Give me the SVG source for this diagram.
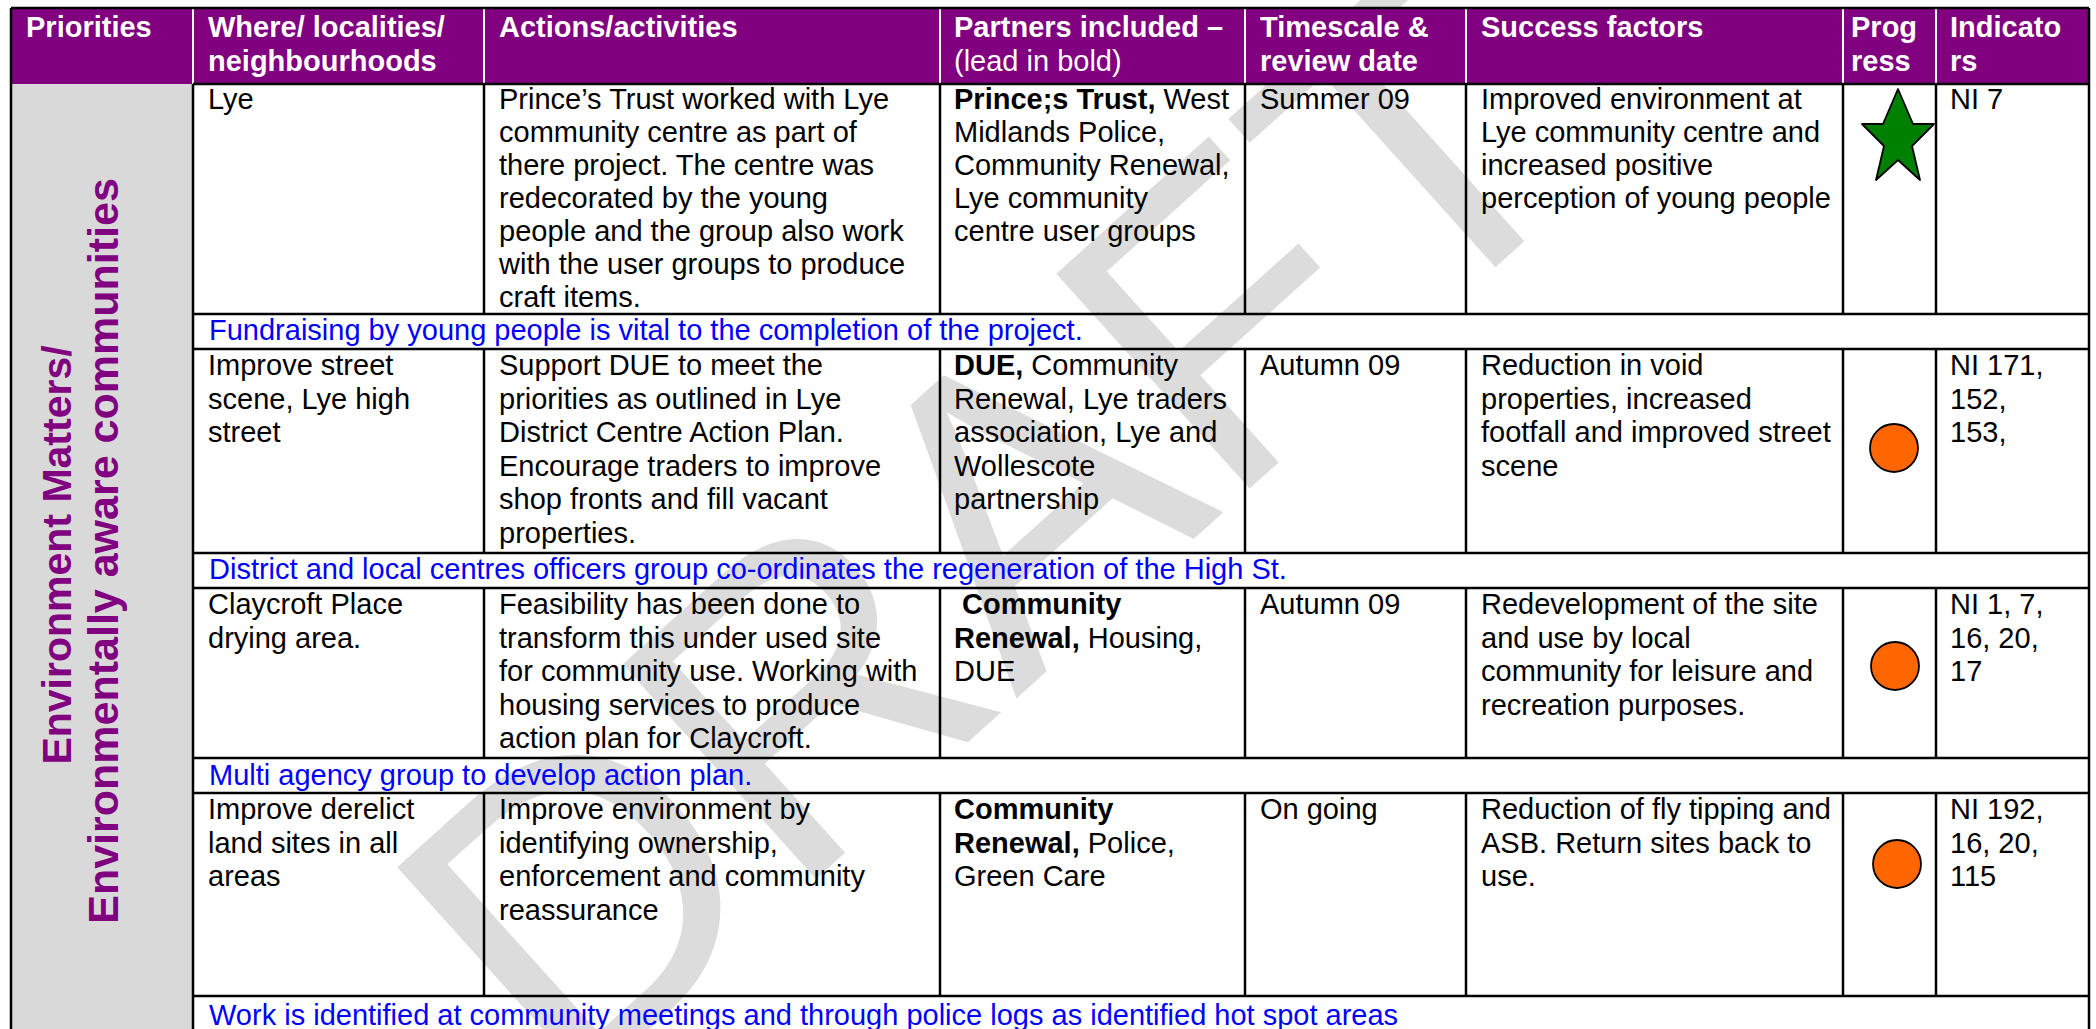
<svg xmlns="http://www.w3.org/2000/svg" width="2096" height="1029" viewBox="0 0 2096 1029">
<style>
text{font-family:"Liberation Sans",Arial,sans-serif;font-size:29px;fill:#000}
.h{fill:#fff;font-weight:bold}
.hn{fill:#fff;font-weight:normal}
.b{font-weight:bold}
.blue{fill:#0000ff}
.pri{fill:#800080;font-weight:bold;font-size:41px}
.ln{stroke:#000;stroke-width:2.5;fill:none}
.hl{stroke:#fff;stroke-width:2;fill:none}
.dot{fill:#ff6600;stroke:#000;stroke-width:1.8}
.wm{font-family:"Liberation Sans",Arial,sans-serif;font-size:420px;fill:#dcdcdc}
</style>
<rect width="2096" height="1029" fill="#fff"/>
<g id="watermark" transform="translate(565,1105) rotate(-42)">
<text class="wm" x="0" y="0">DRAFT</text>
</g>
<g id="header">
<rect x="11" y="8" width="2078" height="76" fill="#800080"/>
<path class="hl" d="M193 8V84M484 8V84M940 8V84M1245 8V84M1466 8V84M1843 8V84M1936 8V84"/>
<text class="h" x="26" y="37">Priorities</text>
<text class="h" x="208" y="37">Where/ localities/</text>
<text class="h" x="208" y="71">neighbourhoods</text>
<text class="h" x="499" y="37">Actions/activities</text>
<text class="h" x="954" y="37">Partners included –</text>
<text class="hn" x="954" y="71">(lead in bold)</text>
<text class="h" x="1260" y="37">Timescale &amp;</text>
<text class="h" x="1260" y="71">review date</text>
<text class="h" x="1481" y="37">Success factors</text>
<text class="h" x="1851" y="37">Prog</text>
<text class="h" x="1851" y="71">ress</text>
<text class="h" x="1950" y="37">Indicato</text>
<text class="h" x="1950" y="71">rs</text>
</g>
<g id="priority">
<rect x="11" y="84" width="182" height="945" fill="#d9d9d9"/>
<text class="pri" text-anchor="middle" transform="translate(71,555) rotate(-90)">Environment Matters/</text>
<text class="pri" text-anchor="middle" style="font-size:43px" transform="translate(118,551) rotate(-90)">Environmentally aware communities</text>
</g>
<g id="connectors">
<line class="ln" x1="11" y1="8" x2="2089" y2="8"/>
<line class="ln" x1="11" y1="8" x2="11" y2="1029"/>
<line class="ln" x1="2089" y1="8" x2="2089" y2="1029"/>
<line class="ln" x1="193" y1="84" x2="193" y2="1029"/>
<line class="ln" x1="193" y1="84" x2="2089" y2="84"/>
<line class="ln" x1="193" y1="314" x2="2089" y2="314"/>
<line class="ln" x1="193" y1="349" x2="2089" y2="349"/>
<line class="ln" x1="193" y1="553" x2="2089" y2="553"/>
<line class="ln" x1="193" y1="588" x2="2089" y2="588"/>
<line class="ln" x1="193" y1="758" x2="2089" y2="758"/>
<line class="ln" x1="193" y1="793" x2="2089" y2="793"/>
<line class="ln" x1="193" y1="996" x2="2089" y2="996"/>
<path class="ln" d="M484 84V314M940 84V314M1245 84V314M1466 84V314M1843 84V314M1936 84V314"/>
<path class="ln" d="M484 349V553M940 349V553M1245 349V553M1466 349V553M1843 349V553M1936 349V553"/>
<path class="ln" d="M484 588V758M940 588V758M1245 588V758M1466 588V758M1843 588V758M1936 588V758"/>
<path class="ln" d="M484 793V996M940 793V996M1245 793V996M1466 793V996M1843 793V996M1936 793V996"/>
</g>
<g id="row1">
<text x="208" y="109">Lye</text>
<text x="499" y="109">Prince’s Trust worked with Lye</text>
<text x="499" y="142">community centre as part of</text>
<text x="499" y="175">there project. The centre was</text>
<text x="499" y="208">redecorated by the young</text>
<text x="499" y="241">people and the group also work</text>
<text x="499" y="274">with the user groups to produce</text>
<text x="499" y="307">craft items.</text>
<text x="954" y="109"><tspan class="b">Prince;s Trust,</tspan> West</text>
<text x="954" y="142">Midlands Police,</text>
<text x="954" y="175">Community Renewal,</text>
<text x="954" y="208">Lye community</text>
<text x="954" y="241">centre user groups</text>
<text x="1260" y="109">Summer 09</text>
<text x="1481" y="109">Improved environment at</text>
<text x="1481" y="142">Lye community centre and</text>
<text x="1481" y="175">increased positive</text>
<text x="1481" y="208">perception of young people</text>
<polygon points="1898,89 1913,124 1934,124 1912,146 1920,180 1898,160 1876,180 1884,146 1862,124 1883,124" fill="#008000" stroke="#000" stroke-width="1.8" stroke-linejoin="round"/>
<text x="1950" y="109">NI 7</text>
</g>
<g id="band1"><text class="blue" x="209" y="340">Fundraising by young people is vital to the completion of the project.</text></g>
<g id="row2">
<text x="208" y="375">Improve street</text>
<text x="208" y="408.5">scene, Lye high</text>
<text x="208" y="442">street</text>
<text x="499" y="375">Support DUE to meet the</text>
<text x="499" y="408.5">priorities as outlined in Lye</text>
<text x="499" y="442">District Centre Action Plan.</text>
<text x="499" y="475.5">Encourage traders to improve</text>
<text x="499" y="509">shop fronts and fill vacant</text>
<text x="499" y="542.5">properties.</text>
<text x="954" y="375"><tspan class="b">DUE,</tspan> Community</text>
<text x="954" y="408.5">Renewal, Lye traders</text>
<text x="954" y="442">association, Lye and</text>
<text x="954" y="475.5">Wollescote</text>
<text x="954" y="509">partnership</text>
<text x="1260" y="375">Autumn 09</text>
<text x="1481" y="375">Reduction in void</text>
<text x="1481" y="408.5">properties, increased</text>
<text x="1481" y="442">footfall and improved street</text>
<text x="1481" y="475.5">scene</text>
<circle class="dot" cx="1894" cy="448" r="24"/>
<text x="1950" y="375">NI 171,</text>
<text x="1950" y="408.5">152,</text>
<text x="1950" y="442">153,</text>
</g>
<g id="band2"><text class="blue" x="209" y="579">District and local centres officers group co-ordinates the regeneration of the High St.</text></g>
<g id="row3">
<text x="208" y="614">Claycroft Place</text>
<text x="208" y="647.5">drying area.</text>
<text x="499" y="614">Feasibility has been done to</text>
<text x="499" y="647.5">transform this under used site</text>
<text x="499" y="681">for community use. Working with</text>
<text x="499" y="714.5">housing services to produce</text>
<text x="499" y="748">action plan for Claycroft.</text>
<text class="b" x="962" y="614">Community</text>
<text x="954" y="647.5"><tspan class="b">Renewal,</tspan> Housing,</text>
<text x="954" y="681">DUE</text>
<text x="1260" y="614">Autumn 09</text>
<text x="1481" y="614">Redevelopment of the site</text>
<text x="1481" y="647.5">and use by local</text>
<text x="1481" y="681">community for leisure and</text>
<text x="1481" y="714.5">recreation purposes.</text>
<circle class="dot" cx="1895" cy="666" r="24"/>
<text x="1950" y="614">NI 1, 7,</text>
<text x="1950" y="647.5">16, 20,</text>
<text x="1950" y="681">17</text>
</g>
<g id="band3"><text class="blue" x="209" y="785">Multi agency group to develop action plan.</text></g>
<g id="row4">
<text x="208" y="819">Improve derelict</text>
<text x="208" y="852.5">land sites in all</text>
<text x="208" y="886">areas</text>
<text x="499" y="819">Improve environment by</text>
<text x="499" y="852.5">identifying ownership,</text>
<text x="499" y="886">enforcement and community</text>
<text x="499" y="919.5">reassurance</text>
<text class="b" x="954" y="819">Community</text>
<text x="954" y="852.5"><tspan class="b">Renewal,</tspan> Police,</text>
<text x="954" y="886">Green Care</text>
<text x="1260" y="819">On going</text>
<text x="1481" y="819">Reduction of fly tipping and</text>
<text x="1481" y="852.5">ASB. Return sites back to</text>
<text x="1481" y="886">use.</text>
<circle class="dot" cx="1897" cy="864" r="24"/>
<text x="1950" y="819">NI 192,</text>
<text x="1950" y="852.5">16, 20,</text>
<text x="1950" y="886">115</text>
</g>
<g id="band4"><text class="blue" x="209" y="1025">Work is identified at community meetings and through police logs as identified hot spot areas</text></g>
</svg>
